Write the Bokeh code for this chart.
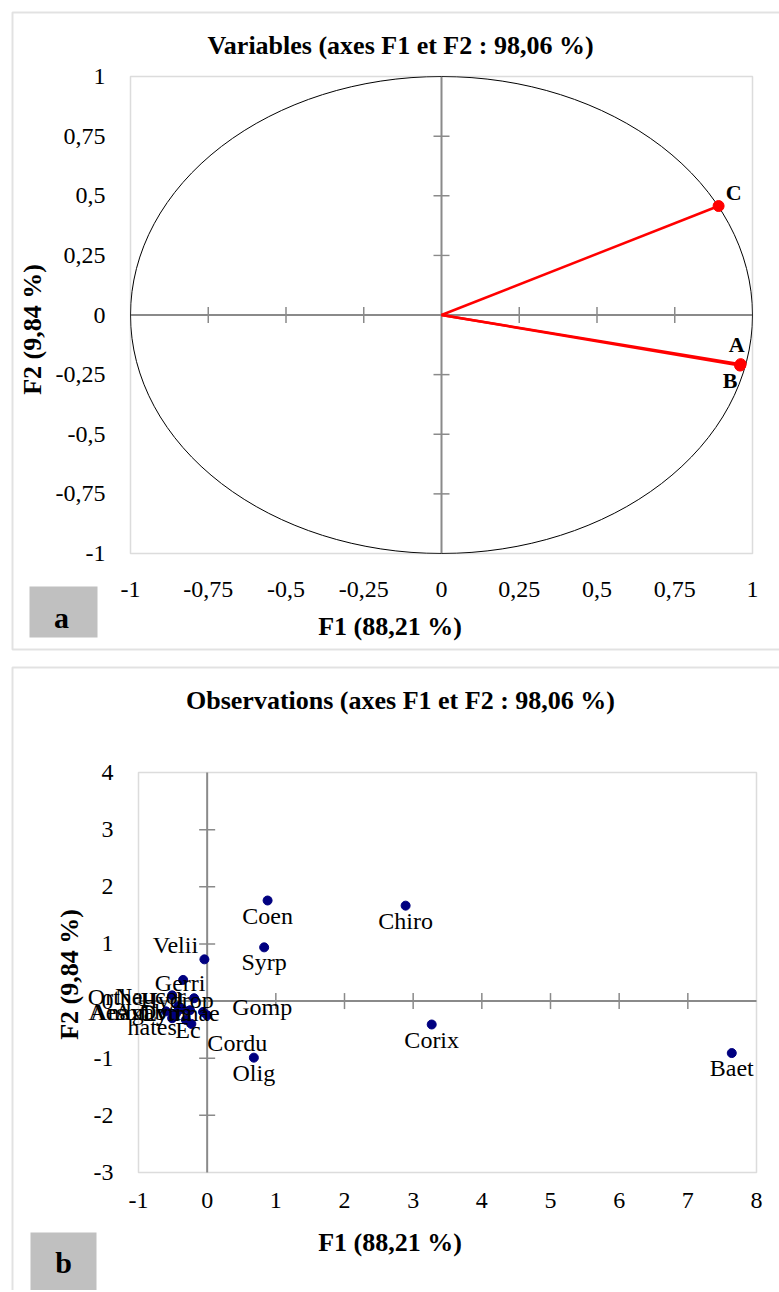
import math
from bokeh.plotting import figure
from bokeh.models import Range1d, FixedTicker, Label, ColumnDataSource, BoxAnnotation
from bokeh.layouts import column
from bokeh.embed import file_html
from bokeh.resources import INLINE
from bokeh.core.properties import value

# ---------------- data: variables (correlation circle) ----------------
var_names = ["A", "B", "C"]
var_f1 = [0.962, 0.960, 0.891]
var_f2 = [-0.206, -0.212, 0.457]

circle_ticks = [-1, -0.75, -0.5, -0.25, 0, 0.25, 0.5, 0.75, 1]
circle_tick_labels = ["-1", "-0,75", "-0,5", "-0,25", "0", "0,25", "0,5", "0,75", "1"]

# ---------------- data: observations ----------------
obs_names = ["Baet", "Chiro", "Corix", "Coen", "Syrp", "Olig", "Velii", "Gerri",
             "Gomp", "Cordu", "Orthe", "Hydrop", "Naucor", "Aeshn", "Anax", "Agab",
             "Lymnae", "Dytis", "hates", "Ec"]
obs_f1 = [7.64, 2.89, 3.27, 0.88, 0.83, 0.68, -0.04, -0.35,
          0.00, -0.23, -0.51, -0.19, -0.42, -0.60, -0.45, -0.36,
          -0.06, -0.25, -0.51, -0.31]
obs_f2 = [-0.91, 1.67, -0.41, 1.76, 0.94, -0.99, 0.73, 0.37,
          -0.25, -0.40, 0.10, 0.05, -0.09, -0.18, -0.21, -0.14,
          -0.19, -0.16, -0.30, -0.33]

obs_x_ticks = [-1, 0, 1, 2, 3, 4, 5, 6, 7, 8]
obs_x_tick_labels = ["-1", "0", "1", "2", "3", "4", "5", "6", "7", "8"]
obs_y_ticks = [-3, -2, -1, 0, 1, 2, 3, 4]
obs_y_tick_labels = ["-3", "-2", "-1", "0", "1", "2", "3", "4"]

title_a = "Variables (axes F1 et F2 : 98,06 %)"
title_b = "Observations (axes F1 et F2 : 98,06 %)"
x_title = "F1 (88,21 %)"
y_title = "F2 (9,84 %)"

# ---------------- styles: label placement in screen px (+ = right / down) ----------------
var_label_dx = [-4, -10, 15]
var_label_dy = [-20, 15, -14]
obs_label_dx = [0, 0, 0, 0, 0, 0, -29, -3, 55, 46, -57, -17, -28, -47, -60, -42, -22, -25, -20, 2]
obs_label_dy = [15, 15, 15, 15, 15, 15, -14, 3, -8, 19, 2, 2, -10, 1, -1, 3, 1, 2, 9, 10]

SERIF = "Liberation Serif"
GREY = "#8a8a8a"
BORDER_GREY = "#a0a0a0"
PAGE_MARGIN = 0
W = 779


def build_panel(width, height, page_top, area, xt, yt):
    """area = plot-area edges (left, top, right, bottom) in canvas pixels."""
    L, T, R, B = area
    kx = (R - L) / (xt[-1] - xt[0])
    ky = (B - T) / (yt[-1] - yt[0])
    xr = Range1d(xt[0] - L / kx, xt[-1] + (width - R) / kx)
    yr = Range1d(yt[0] - (height - B) / ky, yt[-1] + T / ky)
    p = figure(width=width, height=height, x_range=xr, y_range=yr, min_border=0,
               output_backend="svg", toolbar_location=None)
    p.title.visible = False
    p.outline_line_color = None
    p.xgrid.visible = False
    p.ygrid.visible = False

    def at(px, py):
        cx = px - PAGE_MARGIN
        cy = py - page_top
        return xr.start + cx / kx, yr.end - cy / ky

    return p, at


def style_axes(p, xt, xl, yt, yl, xstand, ystand, xlab_stand, ylab_stand):
    p.xaxis.fixed_location = yt[0]
    p.yaxis.fixed_location = xt[0]
    p.xaxis.ticker = FixedTicker(ticks=xt)
    p.yaxis.ticker = FixedTicker(ticks=yt)
    p.xaxis.major_label_overrides = dict(zip(xt, xl))
    p.yaxis.major_label_overrides = dict(zip(yt, yl))
    for ax in p.axis:
        ax.axis_line_color = None
        ax.major_tick_line_color = None
        ax.minor_tick_line_color = None
        ax.major_tick_in = 0
        ax.major_tick_out = 0
        ax.major_label_text_font = SERIF
        ax.major_label_text_font_size = "24px"
        ax.major_label_text_color = "black"
        ax.axis_label_text_font = SERIF
        ax.axis_label_text_font_size = "26px"
        ax.axis_label_text_font_style = "bold"
        ax.axis_label_text_color = "black"
    p.xaxis.axis_label = x_title
    p.yaxis.axis_label = y_title
    p.xaxis.major_label_standoff = xstand
    p.yaxis.major_label_standoff = ystand
    p.xaxis.axis_label_standoff = xlab_stand
    p.yaxis.axis_label_standoff = ylab_stand
    # plot area outline
    p.add_layout(BoxAnnotation(left=xt[0], right=xt[-1], bottom=yt[0], top=yt[-1],
                               fill_color=None, line_color=GREY, line_width=1.5))
    # zero axes with cross ticks
    p.segment(x0=[xt[0], 0], y0=[0, yt[0]], x1=[xt[-1], 0], y1=[0, yt[-1]],
              line_color=GREY, line_width=2)
    inner_x = [t for t in xt[1:-1] if t != 0]
    inner_y = [t for t in yt[1:-1] if t != 0]
    p.scatter(x=inner_x, y=[0] * len(inner_x), marker="dash", size=16, angle=math.pi / 2,
              line_color=GREY, line_width=1.5)
    p.scatter(x=[0] * len(inner_y), y=inner_y, marker="dash", size=16,
              line_color=GREY, line_width=1.5)


def add_label(p, at, text, px, py, size, bold=True):
    x, y = at(px, py)
    p.add_layout(Label(x=x, y=y, text=text, text_font=SERIF, text_font_size=size,
                       text_font_style="bold" if bold else "normal",
                       text_align="center", text_baseline="middle", text_color="black"))


def add_box(p, at, left, top, right, bottom, **kw):
    x0, y0 = at(left, top)
    x1, y1 = at(right, bottom)
    p.add_layout(BoxAnnotation(left=x0, right=x1, top=y0, bottom=y1, **kw))


# ---------------- panel a ----------------
H1 = 658
TOP1 = PAGE_MARGIN
p1, at1 = build_panel(W, H1, TOP1, (130, 76, 752, 553), circle_ticks, circle_ticks)
add_box(p1, at1, 12, 12, 820, 649, fill_color=None, line_color=BORDER_GREY, line_width=2)
add_box(p1, at1, 29, 586, 97, 637, fill_color="#c0c0c0", fill_alpha=1, line_color=None)
style_axes(p1, circle_ticks, circle_tick_labels, circle_ticks, circle_tick_labels,
           28, 25, 12, 6)

p1.ellipse(x=0, y=0, width=2, height=2, fill_color=None, line_color="black", line_width=1)

vsrc = ColumnDataSource(dict(x=var_f1, y=var_f2, name=var_names,
                             x0=[0] * len(var_f1), y0=[0] * len(var_f1),
                             dx=var_label_dx, dy=var_label_dy))
p1.segment(x0="x0", y0="y0", x1="x", y1="y", source=vsrc, line_color="red", line_width=2.5)
p1.scatter(x="x", y="y", source=vsrc, size=11, fill_color="red", line_color="red")
p1.text(x="x", y="y", text="name", source=vsrc, x_offset="dx", y_offset="dy",
        text_font=value(SERIF), text_font_size=value("22px"), text_font_style="bold",
        text_align="center", text_baseline="middle", text_color="black")

add_label(p1, at1, title_a, 400, 45, "26px")
add_label(p1, at1, "a", 61, 617, "30px")

# ---------------- panel b ----------------
TOP2 = PAGE_MARGIN + H1
H2 = 1290 - TOP2
p2, at2 = build_panel(W, H2, TOP2, (138, 772 - TOP2, 756, 1172 - TOP2), obs_x_ticks, obs_y_ticks)
add_box(p2, at2, 12, 667, 820, 1330, fill_color=None, line_color=BORDER_GREY, line_width=2)
add_box(p2, at2, 30, 1232, 96, 1330, fill_color="#c0c0c0", fill_alpha=1, line_color=None)
style_axes(p2, obs_x_ticks, obs_x_tick_labels, obs_y_ticks, obs_y_tick_labels,
           20, 25, 17, 7)

osrc = ColumnDataSource(dict(x=obs_f1, y=obs_f2, name=obs_names,
                             dx=obs_label_dx, dy=obs_label_dy))
p2.scatter(x="x", y="y", source=osrc, size=9, fill_color="#000080", line_color="#000080")
p2.text(x="x", y="y", text="name", source=osrc, x_offset="dx", y_offset="dy",
        text_font=value(SERIF), text_font_size=value("24px"),
        text_align="center", text_baseline="middle", text_color="black")

add_label(p2, at2, title_b, 400, 700, "26px")
add_label(p2, at2, "b", 63, 1262, "30px")

layout = column(p1, p2, spacing=0)
open("out.html", "w").write(file_html(layout, INLINE))
